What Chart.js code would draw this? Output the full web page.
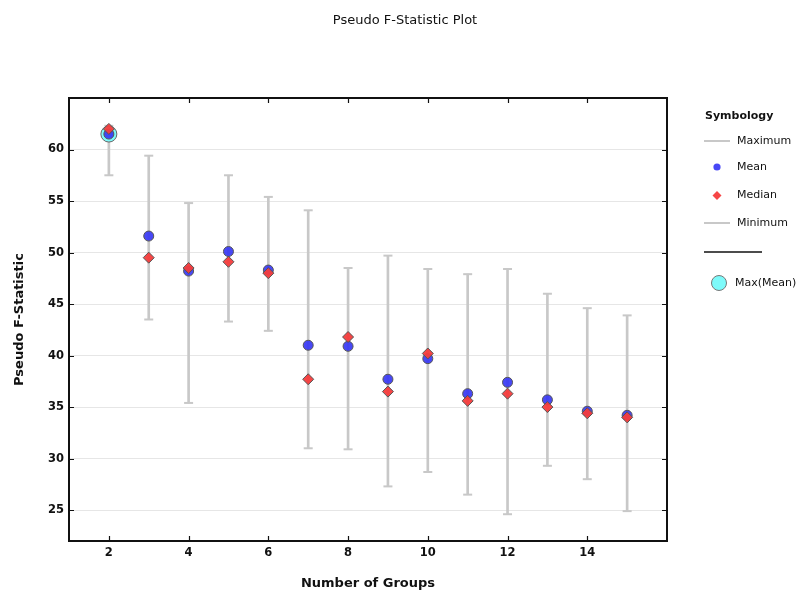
<!DOCTYPE html>
<html>
<head>
<meta charset="utf-8">
<title>Pseudo F-Statistic Plot</title>
<script src="https://cdn.jsdelivr.net/npm/chart.js@4/dist/chart.umd.min.js"></script>
<style>
  body { margin: 0; background: #fff; }
  #lienzo { display: block; }
</style>
</head>
<body>
<canvas id="lienzo" width="800" height="592"></canvas>
<script>
// datos
const grupos = [2, 3, 4, 5, 6, 7, 8, 9, 10, 11, 12, 13, 14, 15];
const maximos = [62.3, 59.4, 54.8, 57.5, 55.4, 54.1, 48.5, 49.7, 48.4, 47.9, 48.4, 46.0, 44.6, 43.9];
const medias = [61.5, 51.6, 48.2, 50.1, 48.3, 41.0, 40.9, 37.7, 39.7, 36.3, 37.4, 35.7, 34.6, 34.2];
const medianas = [62.0, 49.5, 48.5, 49.1, 48.0, 37.7, 41.8, 36.5, 40.2, 35.6, 36.3, 35.0, 34.4, 34.0];
const minimos = [57.5, 43.5, 35.4, 43.3, 42.4, 31.0, 30.9, 27.3, 28.7, 26.5, 24.6, 29.3, 28.0, 24.9];
const ticksX = [2, 4, 6, 8, 10, 12, 14];
const ticksY = [25, 30, 35, 40, 45, 50, 55, 60];

const gris = '#c8c8c8';
const azul = 'rgba(52,52,245,0.9)';
const rojo = 'rgba(245,60,60,0.95)';
const cian = 'rgba(125,250,250,1)';
const fuente = 'DejaVu Sans';

// grupo con la media mas alta
const iMax = medias.indexOf(Math.max(...medias));

// titulo, marco, ticks hacia dentro y leyenda
const extras = {
    id: 'extras',
    afterDraw(chart) {
        const ctx = chart.ctx;
        const a = chart.chartArea;
        const sx = chart.scales.x, sy = chart.scales.y;
        ctx.save();

        ctx.fillStyle = '#111';
        ctx.font = '13px "' + fuente + '"';
        ctx.textAlign = 'center';
        ctx.textBaseline = 'middle';
        ctx.fillText('Pseudo F-Statistic Plot', 405, 21);

        ctx.strokeStyle = '#111';
        ctx.lineWidth = 1.2;
        ticksX.forEach(v => {
            const px = Math.round(sx.getPixelForValue(v)) + 0.5;
            ctx.beginPath();
            ctx.moveTo(px, a.bottom); ctx.lineTo(px, a.bottom - 5);
            ctx.moveTo(px, a.top); ctx.lineTo(px, a.top + 5);
            ctx.stroke();
        });
        ticksY.forEach(v => {
            const py = Math.round(sy.getPixelForValue(v)) + 0.5;
            ctx.beginPath();
            ctx.moveTo(a.left, py); ctx.lineTo(a.left + 5, py);
            ctx.moveTo(a.right, py); ctx.lineTo(a.right - 5, py);
            ctx.stroke();
        });
        ctx.lineWidth = 2;
        ctx.strokeRect(a.left, a.top, a.right - a.left, a.bottom - a.top);

        // leyenda
        ctx.textAlign = 'left';
        ctx.fillStyle = '#111';
        ctx.font = 'bold 11px "' + fuente + '"';
        ctx.fillText('Symbology', 705, 116);
        ctx.font = '11px "' + fuente + '"';

        ctx.strokeStyle = gris;
        ctx.lineWidth = 2;
        ctx.beginPath(); ctx.moveTo(704, 141); ctx.lineTo(730, 141); ctx.stroke();
        ctx.fillText('Maximum', 737, 141);

        ctx.fillStyle = azul;
        ctx.beginPath(); ctx.arc(717, 167, 3.6, 0, Math.PI * 2); ctx.fill();
        ctx.fillStyle = '#111';
        ctx.fillText('Mean', 737, 167);

        ctx.fillStyle = rojo;
        ctx.beginPath();
        ctx.moveTo(717, 191); ctx.lineTo(721.5, 195.5); ctx.lineTo(717, 200); ctx.lineTo(712.5, 195.5);
        ctx.closePath(); ctx.fill();
        ctx.fillStyle = '#111';
        ctx.fillText('Median', 737, 195);

        ctx.beginPath(); ctx.moveTo(704, 223); ctx.lineTo(730, 223); ctx.stroke();
        ctx.fillText('Minimum', 737, 223);

        ctx.strokeStyle = '#111';
        ctx.lineWidth = 1.5;
        ctx.beginPath(); ctx.moveTo(704, 252); ctx.lineTo(762, 252); ctx.stroke();

        ctx.fillStyle = cian;
        ctx.strokeStyle = '#777';
        ctx.lineWidth = 1;
        ctx.beginPath(); ctx.arc(719, 283, 7.5, 0, Math.PI * 2); ctx.fill(); ctx.stroke();
        ctx.fillStyle = '#111';
        ctx.fillText('Max(Mean)', 735, 283);

        ctx.restore();
    }
};

const contexto = document.getElementById('lienzo').getContext('2d');
const grafico = new Chart(contexto, {
    type: 'scatter',
    data: {
        datasets: [
            {
                label: 'Median',
                data: grupos.map((g, i) => ({ x: g, y: medianas[i] })),
                pointStyle: 'rectRot',
                pointRadius: 5.5,
                backgroundColor: rojo,
                borderColor: '#555',
                borderWidth: 1,
                order: 0
            },
            {
                label: 'Mean',
                data: grupos.map((g, i) => ({ x: g, y: medias[i] })),
                pointStyle: 'circle',
                pointRadius: 5,
                backgroundColor: azul,
                borderColor: '#555',
                borderWidth: 1,
                order: 1
            },
            {
                label: 'Max(Mean)',
                data: [{ x: grupos[iMax], y: medias[iMax] }],
                pointStyle: 'circle',
                pointRadius: 8,
                backgroundColor: cian,
                borderColor: '#666',
                borderWidth: 1,
                order: 2
            },
            {
                label: 'Maximum',
                data: grupos.map((g, i) => ({ x: g, y: maximos[i] })),
                pointStyle: 'line',
                pointRadius: 4.5,
                borderColor: gris,
                borderWidth: 2,
                order: 3
            },
            {
                label: 'Minimum',
                data: grupos.map((g, i) => ({ x: g, y: minimos[i] })),
                pointStyle: 'line',
                pointRadius: 4.5,
                borderColor: gris,
                borderWidth: 2,
                order: 3
            },
            {
                type: 'bar',
                label: 'rango',
                data: grupos.map((g, i) => ({ x: g, y: [minimos[i], maximos[i]] })),
                backgroundColor: gris,
                barThickness: 2,
                order: 4
            }
        ]
    },
    options: {
        responsive: false,
        animation: false,
        layout: { padding: { top: 98, right: 133, left: 0, bottom: 0 } },
        plugins: {
            legend: { display: false },
            tooltip: { enabled: false }
        },
        scales: {
            x: {
                type: 'linear',
                min: 1,
                max: 16,
                offset: false,
                afterFit(scale) { scale.height = 51; },
                afterBuildTicks(scale) { scale.ticks = ticksX.map(v => ({ value: v })); },
                grid: { display: false, drawTicks: false },
                border: { display: false },
                ticks: { padding: 5, color: '#111', font: { family: fuente, size: 11.5, weight: 'bold' } },
                title: {
                    display: true,
                    text: 'Number of Groups',
                    color: '#111',
                    padding: { top: 0, bottom: 1 },
                    font: { family: fuente, size: 13, weight: 'bold' }
                }
            },
            y: {
                type: 'linear',
                min: 22,
                max: 65,
                beginAtZero: false,
                afterFit(scale) { scale.width = 69; },
                afterBuildTicks(scale) { scale.ticks = ticksY.map(v => ({ value: v })); },
                grid: { color: '#e6e6e6', drawTicks: false },
                border: { display: false },
                ticks: { padding: 5, color: '#111', font: { family: fuente, size: 11.5, weight: 'bold' } },
                title: {
                    display: true,
                    text: 'Pseudo F-Statistic',
                    color: '#111',
                    padding: { top: 12, bottom: 0 },
                    font: { family: fuente, size: 13, weight: 'bold' }
                }
            }
        }
    },
    plugins: [extras]
});
</script>
</body>
</html>
